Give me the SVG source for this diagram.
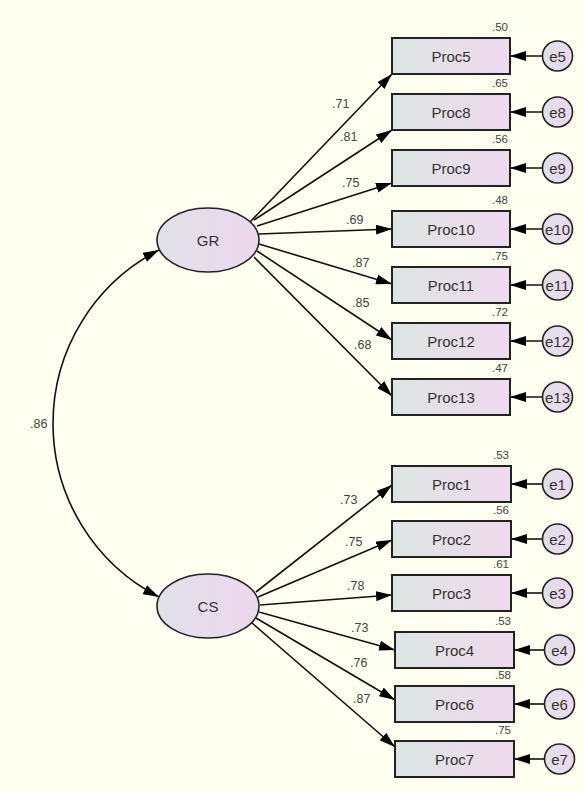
<svg xmlns="http://www.w3.org/2000/svg" width="584" height="792" viewBox="0 0 584 792">
<defs>
<linearGradient id="gb" x1="0" y1="0" x2="1" y2="0">
<stop offset="0" stop-color="#dde6e2"/>
<stop offset="1" stop-color="#efd9ee"/>
</linearGradient>
<linearGradient id="ge" x1="0" y1="0" x2="1" y2="0">
<stop offset="0" stop-color="#dfe1e8"/>
<stop offset="1" stop-color="#eed7ee"/>
</linearGradient>
<marker id="ah" viewBox="0 0 16 10" refX="16" refY="5" markerWidth="16" markerHeight="10" markerUnits="userSpaceOnUse" orient="auto-start-reverse">
<path d="M0,0 L16,5 L0,10 Z" fill="#000"/>
</marker>
<style>
.box{fill:url(#gb);stroke:#222;stroke-width:2}
.lat{fill:url(#ge);stroke:#222;stroke-width:1.6}
.err{fill:url(#ge);stroke:#222;stroke-width:1.6}
.lbl{font-family:"Liberation Sans",Arial,sans-serif;font-size:15px;fill:#333;text-anchor:middle}
.r2{font-family:"Liberation Sans",Arial,sans-serif;font-size:11.5px;fill:#444;text-anchor:end}
.ld{font-family:"Liberation Sans",Arial,sans-serif;font-size:12.5px;fill:#444}
.c{fill:none;stroke:#111;stroke-width:1.6;marker-end:url(#ah)}
</style>
</defs>
<rect x="0" y="0" width="584" height="792" fill="#fefef1"/>

<g id="connectors">
<path class="c" style="marker-start:url(#ah)" d="M159,250 A195,195 0 0,0 159,597"/>
<line class="c" x1="250" y1="222" x2="392" y2="74"/>
<line class="c" x1="254" y1="220" x2="392" y2="130"/>
<line class="c" x1="257" y1="226" x2="392" y2="183"/>
<line class="c" x1="259" y1="234" x2="392" y2="229"/>
<line class="c" x1="259" y1="244" x2="392" y2="284"/>
<line class="c" x1="257" y1="251" x2="392" y2="340"/>
<line class="c" x1="254" y1="257" x2="392" y2="396"/>
<line class="c" x1="256" y1="592" x2="392" y2="485"/>
<line class="c" x1="258" y1="597" x2="392" y2="540"/>
<line class="c" x1="260" y1="605" x2="392" y2="595"/>
<line class="c" x1="259" y1="612" x2="395" y2="650"/>
<line class="c" x1="256" y1="618" x2="395" y2="700"/>
<line class="c" x1="252" y1="623" x2="395" y2="747"/>
<line class="c" x1="542.5" y1="56" x2="510" y2="56"/>
<line class="c" x1="542.5" y1="112" x2="510" y2="112"/>
<line class="c" x1="542.5" y1="168" x2="510" y2="168"/>
<line class="c" x1="542.5" y1="229" x2="510" y2="229"/>
<line class="c" x1="542.5" y1="285" x2="510" y2="285"/>
<line class="c" x1="542.5" y1="341" x2="510" y2="341"/>
<line class="c" x1="542.5" y1="397" x2="510" y2="397"/>
<line class="c" x1="542.5" y1="484" x2="511" y2="484"/>
<line class="c" x1="542.5" y1="539" x2="511" y2="539"/>
<line class="c" x1="542.5" y1="593" x2="511" y2="593"/>
<line class="c" x1="544.5" y1="650" x2="514" y2="650"/>
<line class="c" x1="544.5" y1="704" x2="514" y2="704"/>
<line class="c" x1="544.5" y1="759" x2="514" y2="759"/>
<text class="ld" x="30" y="428">.86</text>
<text class="ld" x="332" y="108">.71</text>
<text class="ld" x="340" y="141">.81</text>
<text class="ld" x="342" y="187">.75</text>
<text class="ld" x="346" y="224">.69</text>
<text class="ld" x="352" y="267">.87</text>
<text class="ld" x="352" y="307">.85</text>
<text class="ld" x="354" y="349">.68</text>
<text class="ld" x="340" y="504">.73</text>
<text class="ld" x="345" y="546">.75</text>
<text class="ld" x="347" y="590">.78</text>
<text class="ld" x="351" y="632">.73</text>
<text class="ld" x="350" y="667">.76</text>
<text class="ld" x="353" y="703">.87</text>
</g>

<g id="GR"><ellipse class="lat" cx="208" cy="240" rx="51" ry="32"/><text class="lbl" x="208" y="246">GR</text></g>
<g id="CS"><ellipse class="lat" cx="208" cy="606" rx="51" ry="32"/><text class="lbl" x="208" y="612">CS</text></g>

<g id="Proc5"><rect class="box" x="392" y="38" width="118" height="36"/><text class="lbl" x="451" y="62">Proc5</text><text class="r2" x="508" y="31">.50</text></g>
<g id="Proc8"><rect class="box" x="392" y="94" width="118" height="36"/><text class="lbl" x="451" y="118">Proc8</text><text class="r2" x="508" y="87">.65</text></g>
<g id="Proc9"><rect class="box" x="392" y="150" width="118" height="36"/><text class="lbl" x="451" y="174">Proc9</text><text class="r2" x="508" y="143">.56</text></g>
<g id="Proc10"><rect class="box" x="392" y="211" width="118" height="36"/><text class="lbl" x="451" y="235">Proc10</text><text class="r2" x="508" y="204">.48</text></g>
<g id="Proc11"><rect class="box" x="392" y="267" width="118" height="36"/><text class="lbl" x="451" y="291">Proc11</text><text class="r2" x="508" y="260">.75</text></g>
<g id="Proc12"><rect class="box" x="392" y="323" width="118" height="36"/><text class="lbl" x="451" y="347">Proc12</text><text class="r2" x="508" y="316">.72</text></g>
<g id="Proc13"><rect class="box" x="392" y="379" width="118" height="36"/><text class="lbl" x="451" y="403">Proc13</text><text class="r2" x="508" y="372">.47</text></g>

<g id="Proc1"><rect class="box" x="392" y="466" width="119" height="36"/><text class="lbl" x="451.5" y="490">Proc1</text><text class="r2" x="509" y="459">.53</text></g>
<g id="Proc2"><rect class="box" x="392" y="521" width="119" height="36"/><text class="lbl" x="451.5" y="545">Proc2</text><text class="r2" x="509" y="514">.56</text></g>
<g id="Proc3"><rect class="box" x="392" y="575" width="119" height="36"/><text class="lbl" x="451.5" y="599">Proc3</text><text class="r2" x="509" y="568">.61</text></g>
<g id="Proc4"><rect class="box" x="395" y="632" width="119" height="36"/><text class="lbl" x="454.5" y="656">Proc4</text><text class="r2" x="511" y="624.5">.53</text></g>
<g id="Proc6"><rect class="box" x="395" y="686" width="119" height="36"/><text class="lbl" x="454.5" y="710">Proc6</text><text class="r2" x="511" y="678.5">.58</text></g>
<g id="Proc7"><rect class="box" x="395" y="741" width="119" height="36"/><text class="lbl" x="454.5" y="765">Proc7</text><text class="r2" x="511" y="733.5">.75</text></g>

<g id="e5"><circle class="err" cx="557.5" cy="56" r="15"/><text class="lbl" x="557.5" y="61.5">e5</text></g>
<g id="e8"><circle class="err" cx="557.5" cy="112" r="15"/><text class="lbl" x="557.5" y="117.5">e8</text></g>
<g id="e9"><circle class="err" cx="557.5" cy="168" r="15"/><text class="lbl" x="557.5" y="173.5">e9</text></g>
<g id="e10"><circle class="err" cx="557.5" cy="229" r="15"/><text class="lbl" x="557.5" y="234.5">e10</text></g>
<g id="e11"><circle class="err" cx="557.5" cy="285" r="15"/><text class="lbl" x="557.5" y="290.5">e11</text></g>
<g id="e12"><circle class="err" cx="557.5" cy="341" r="15"/><text class="lbl" x="557.5" y="346.5">e12</text></g>
<g id="e13"><circle class="err" cx="557.5" cy="397" r="15"/><text class="lbl" x="557.5" y="402.5">e13</text></g>
<g id="e1"><circle class="err" cx="557.5" cy="484" r="15"/><text class="lbl" x="557.5" y="489.5">e1</text></g>
<g id="e2"><circle class="err" cx="557.5" cy="539" r="15"/><text class="lbl" x="557.5" y="544.5">e2</text></g>
<g id="e3"><circle class="err" cx="557.5" cy="593" r="15"/><text class="lbl" x="557.5" y="598.5">e3</text></g>
<g id="e4"><circle class="err" cx="559.5" cy="650" r="15"/><text class="lbl" x="559.5" y="655.5">e4</text></g>
<g id="e6"><circle class="err" cx="559.5" cy="704" r="15"/><text class="lbl" x="559.5" y="709.5">e6</text></g>
<g id="e7"><circle class="err" cx="559.5" cy="759" r="15"/><text class="lbl" x="559.5" y="764.5">e7</text></g>
</svg>
